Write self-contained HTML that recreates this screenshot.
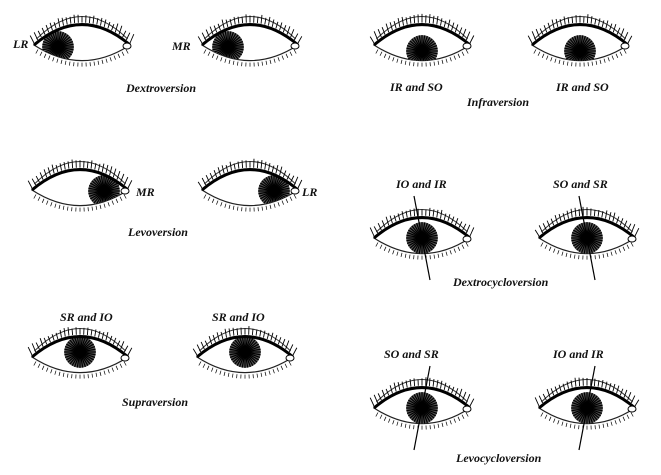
<!DOCTYPE html>
<html><head><meta charset="utf-8"><style>
html,body{margin:0;padding:0;background:#fff;}
svg{display:block}
text{font-family:"Liberation Serif",serif;font-style:italic;font-size:12px;fill:#111;font-weight:bold}
</style></head><body>
<svg id="s" width="661" height="475" viewBox="0 0 661 475" xmlns="http://www.w3.org/2000/svg">
<defs></defs>
<g id="eyes"></g>
<text x="13" y="48">LR</text>
<text x="172" y="50">MR</text>
<text x="126" y="92">Dextroversion</text>
<text x="136" y="196">MR</text>
<text x="302" y="196">LR</text>
<text x="128" y="236">Levoversion</text>
<text x="60" y="321">SR and IO</text>
<text x="212" y="321">SR and IO</text>
<text x="122" y="406">Supraversion</text>
<text x="390" y="91">IR and SO</text>
<text x="556" y="91">IR and SO</text>
<text x="467" y="106">Infraversion</text>
<text x="396" y="188">IO and IR</text>
<text x="553" y="188">SO and SR</text>
<text x="453" y="286">Dextrocycloversion</text>
<text x="384" y="358">SO and SR</text>
<text x="553" y="358">IO and IR</text>
<text x="456" y="462">Levocycloversion</text>
</svg>
<script>
var NS="http://www.w3.org/2000/svg";
var g=document.getElementById("eyes"),defs=document.querySelector("defs");
var id=0,seed=7;
function rnd(){seed=(seed*9301+49297)%233280;return seed/233280;}
function el(t,a,p){var e=document.createElementNS(NS,t);for(var k in a)e.setAttribute(k,a[k]);(p||g).appendChild(e);return e;}
function eye(cx,cy,w,ix,iy,line){
 var h=w/2;id++;
 var up=h*0.85,lo=h*0.65;
 var d="M"+(-h)+",0 Q0,"+(-up)+" "+h+",0 Q0,"+lo+" "+(-h)+",0Z";
 var cp=el("clipPath",{id:"c"+id},defs);el("path",{d:d},cp);
 var G=el("g",{transform:"translate("+cx+","+cy+")"});
 el("path",{d:d,fill:"#fff",stroke:"#222","stroke-width":1.2},G);
 var ig=el("g",{"clip-path":"url(#c"+id+")"},G);
 var r=h*0.33;
 el("circle",{cx:ix,cy:iy,r:r,fill:"#555"},ig);
 for(var a=0;a<360;a+=10){var t=a*Math.PI/180;
  el("line",{x1:ix,y1:iy,x2:ix+r*Math.cos(t),y2:iy+r*Math.sin(t),stroke:"#000","stroke-width":1.2},ig);}
 el("circle",{cx:ix,cy:iy,r:r*0.35,fill:"#000"},ig);
 el("path",{d:"M"+(-h)+",0 Q0,"+(-up)+" "+h+",0",fill:"none",stroke:"#000","stroke-width":3},G);
 el("path",{d:"M"+(-h*0.95)+",-6 Q0,"+(-up*1.25)+" "+(h*0.95)+",-6",fill:"none",stroke:"#333","stroke-width":1},G);
 for(var i=0;i<=26;i++){var u=-h+i*(2*h/26);var y=-(up/2)*(1-(u/h)*(u/h))-2;
  el("line",{x1:u,y1:y,x2:u*1.08,y2:y-6-rnd()*3,stroke:"#000","stroke-width":0.9},G);}
 for(var i=1;i<24;i++){var u=-h+i*(2*h/24);var y=(lo/2)*(1-(u/h)*(u/h));
  el("line",{x1:u,y1:y+2,x2:u*1.05,y2:y+6,stroke:"#000","stroke-width":0.7},G);}
 el("ellipse",{cx:h-3,cy:1,rx:4,ry:3,fill:"#fff",stroke:"#000"},G);
 if(line){el("line",{x1:ix-line[0],y1:iy-line[1],x2:ix+line[0],y2:iy+line[1],stroke:"#000","stroke-width":1.2},G);}
}
eye(82,45,96,-24,2);
eye(250,45,96,-22,2);
eye(80,190,96,24,1);
eye(250,190,96,24,1);
eye(80,357,96,0,-5);
eye(245,357,96,0,-5);
eye(422,45,96,0,6);
eye(580,45,96,0,6);
eye(422,238,96,0,0,[-8,-42]);
eye(587,238,96,0,0,[-8,-42]);
eye(422,408,96,0,0,[8,-42]);
eye(587,408,96,0,0,[8,-42]);
</script>
</body></html>
